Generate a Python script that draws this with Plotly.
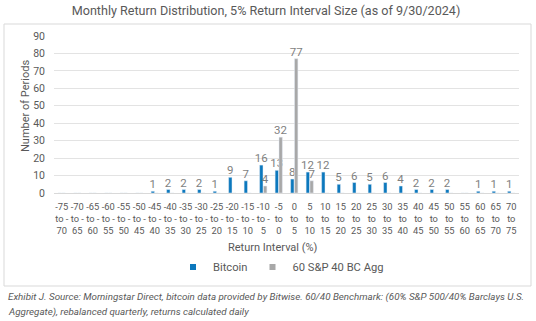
import plotly.graph_objects as go

# Return interval bins (lower bound of each 5% bucket)
bin_starts = list(range(-75, 75, 5))

# Monthly return counts per bucket
bitcoin = [0, 0, 0, 0, 0, 0, 1, 2, 2, 2, 1, 9, 7, 16, 13,
           8, 12, 12, 5, 6, 5, 6, 4, 2, 2, 2, 0, 1, 1, 1]
bench_6040 = [0, 0, 0, 0, 0, 0, 0, 0, 0, 0, 0, 0, 0, 4, 32,
              77, 7, 0, 0, 0, 0, 0, 0, 0, 0, 0, 0, 0, 0, 0]

BLUE = "#0C78BD"
GRAY = "#A8A8A8"
TEXT = "#595959"
FONT = "Roboto"


def bin_label(lo):
    hi = lo + 5
    if hi < 0:
        return f"{lo}<br>to -<br>{abs(hi)}"
    return f"{lo}<br>to<br>{hi}"


cats = [bin_label(v) for v in bin_starts]


def labels(vals):
    return [str(v) if v else "" for v in vals]


fig = go.Figure()
fig.add_trace(go.Bar(
    x=cats, y=bitcoin, name="Bitcoin", marker_color=BLUE,
    text=labels(bitcoin), textposition="outside", constraintext="none",
    textfont=dict(color="#7F7F7F", size=11.5, family=FONT),
    cliponaxis=False, showlegend=False,
))
fig.add_trace(go.Bar(
    x=cats, y=bench_6040, name="60 S&P 40 BC Agg", marker_color=GRAY,
    text=labels(bench_6040), textposition="outside", constraintext="none",
    textfont=dict(color="#7F7F7F", size=11.5, family=FONT),
    cliponaxis=False, showlegend=False,
))
# Legend entries with small square swatches
for name, col in [("Bitcoin", BLUE), ("60 S&P 40 BC Agg", GRAY)]:
    fig.add_trace(go.Scatter(
        x=[None], y=[None], mode="markers", name=name,
        marker=dict(symbol="square", size=6, color=col),
    ))

L, R, T, B = 54, 17, 36, 128
W, H = 536, 321
pw, ph = W - L - R, H - T - B


def px_x(x):
    return (x - L) / pw


def px_y(y):
    return (H - B - y) / ph


fig.update_layout(
    width=W, height=H,
    margin=dict(l=L, r=R, t=T, b=B),
    paper_bgcolor="white", plot_bgcolor="white",
    font=dict(family=FONT, color=TEXT, size=10),
    barmode="group", bargap=0.5, bargroupgap=0.12,
    title=dict(
        text="Monthly Return Distribution, 5% Return Interval Size (as of 9/30/2024)",
        font=dict(size=12.6, color=TEXT, family=FONT),
        x=px_x(266), xanchor="center", xref="paper",
        y=1 - 11 / H, yanchor="middle", yref="container",
    ),
    xaxis=dict(
        type="category", showgrid=False, showline=True, linecolor="#D9D9D9",
        linewidth=1, ticks="outside", ticklen=5, tickcolor="rgba(0,0,0,0)",
        tickangle=0,
        tickfont=dict(size=9.3, color=TEXT, family=FONT),
    ),
    yaxis=dict(
        range=[0, 90], dtick=10, showgrid=True, gridcolor="#E3E3E3",
        zeroline=False, showline=False, ticks="", ticklabelstandoff=8,
        tickfont=dict(size=10.5, color=TEXT, family=FONT),
    ),
    legend=dict(
        orientation="h", x=px_x(281), xanchor="center",
        y=px_y(267), yanchor="middle", font=dict(size=11.2, color=TEXT, family=FONT),
        itemwidth=30, bgcolor="rgba(0,0,0,0)",
    ),
    shapes=[dict(
        type="rect", xref="paper", yref="paper",
        x0=px_x(4), x1=px_x(531), y0=px_y(286), y1=px_y(24),
        line=dict(color="#D9D9D9", width=1), layer="below",
    )],
    annotations=[
        dict(text="Return Interval (%)", xref="paper", yref="paper",
             x=px_x(273), y=px_y(247), xanchor="center", yanchor="middle",
             showarrow=False, font=dict(size=11, color=TEXT, family=FONT)),
        dict(text="Number of Periods", xref="paper", yref="paper",
             x=px_x(25), y=px_y(106), xanchor="center", yanchor="middle",
             textangle=-90, showarrow=False,
             font=dict(size=11, color=TEXT, family=FONT)),
        dict(text="<i>Exhibit J. Source: Morningstar Direct, bitcoin data provided by Bitwise. "
                  "60/40 Benchmark: (60% S&amp;P 500/40% Barclays U.S.</i>",
             xref="paper", yref="paper", x=px_x(6), y=px_y(297),
             xanchor="left", yanchor="middle", showarrow=False,
             font=dict(size=9.8, color=TEXT, family=FONT)),
        dict(text="<i>Aggregate), rebalanced quarterly, returns calculated daily</i>",
             xref="paper", yref="paper", x=px_x(6), y=px_y(312),
             xanchor="left", yanchor="middle", showarrow=False,
             font=dict(size=9.8, color=TEXT, family=FONT)),
    ],
)

fig.write_html("out.html")
